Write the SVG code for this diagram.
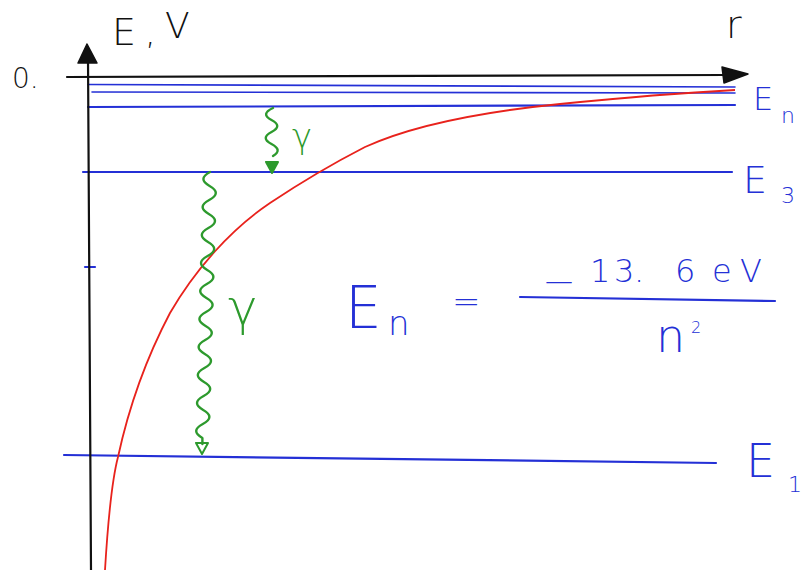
<svg xmlns="http://www.w3.org/2000/svg" width="804" height="570" viewBox="0 0 804 570">
<style>
.axis{stroke:#111;stroke-width:2.2;fill:none;stroke-linecap:round}
.ahead{fill:#111;stroke:#111;stroke-width:1.5;stroke-linejoin:round}
.lvl{stroke:#2430d6;stroke-width:2.2;fill:none;stroke-linecap:round}
.lvlthin{stroke:#2430d6;stroke-width:1.6;fill:none;stroke-linecap:round}
.curve{stroke:#e8221c;stroke-width:1.8;fill:none}
.wave{stroke:#2d9a2d;stroke-width:2.4;fill:none;stroke-linecap:round;stroke-linejoin:round}
.whead{stroke:#2d9a2d;stroke-width:2;stroke-linejoin:round}
.t{font-family:"DejaVu Sans","Liberation Sans",sans-serif;font-weight:200}
.blk{fill:#111}
.blu{fill:#2430d6}
.grn{fill:#2d9a2d}
</style>
<rect width="804" height="570" fill="#fff"/>
<g id="levels">
<line class="lvlthin" x1="88" y1="84.5" x2="735" y2="87"/>
<line class="lvlthin" x1="92" y1="92" x2="735" y2="93"/>
<line class="lvl" x1="88" y1="107" x2="735" y2="105"/>
<line class="lvl" x1="83" y1="172" x2="732" y2="172"/>
<line class="lvl" x1="64" y1="455" x2="716" y2="463"/>
<line class="lvl" x1="85" y1="267" x2="95" y2="267"/>
</g>
<g id="curve">
<path class="curve" d="M105,570 C108,520 112,480 118,457 C126,420 140,370 170,313 C195,270 230,230 270,203 C300,183 330,165 365,147 C420,122 500,110 560,104 C620,98 680,93 735,90"/>
</g>
<g id="axes">
<line class="axis" x1="91" y1="570" x2="88" y2="58"/>
<polygon class="ahead" points="87,44 78,63 97,63"/>
<line class="axis" x1="67" y1="77" x2="726" y2="75"/>
<polygon class="ahead" points="748,74 722,67 724,83"/>
</g>
<g id="photons">
<path class="wave" d="M273,108 q-13,6 -1.5,12 t0,12 t0,12 t1.5,12"/>
<polygon class="whead" fill="#2d9a2d" points="266,162 278,162 272,173"/>
<path class="wave" d="M210,172 q-13,7 -0.4,14 t-0.4,14 t-0.4,14 t-0.4,14 t-0.4,14 t-0.4,14 t-0.4,14 t-0.4,14 t-0.4,14 t-0.4,14 t-0.4,14 t-0.4,14 t-0.4,14 t-0.4,14 t-0.4,14 t-0.4,14 t-0.4,14 t-0.4,14 t-0.4,14 l0,6"/>
<polygon class="whead" fill="none" points="196,443 208,443 202,454"/>
</g>
<g id="labels">
<text class="t blk" x="112" y="45" font-size="38">E</text>
<text class="t blk" x="145" y="44" font-size="34">,</text>
<text class="t blk" x="165" y="38" font-size="36">V</text>
<text class="t blk" x="12" y="88" font-size="28">0.</text>
<text class="t blk" x="726" y="38" font-size="38">r</text>
<text class="t grn" x="292" y="148" font-size="34">γ</text>
<text class="t grn" x="228" y="325" font-size="50">γ</text>
<text class="t blu" x="753" y="110" font-size="32">E</text>
<text class="t blu" x="781" y="123" font-size="22">n</text>
<text class="t blu" x="743" y="193" font-size="38">E</text>
<text class="t blu" x="781" y="203" font-size="22">3</text>
<text class="t blu" x="746" y="477" font-size="46">E</text>
<text class="t blu" x="788" y="492" font-size="22">1</text>
</g>
<g id="formula">
<text class="t blu" x="345" y="328" font-size="58">E</text>
<text class="t blu" x="388" y="335" font-size="34">n</text>
<text class="t blu" x="452" y="313" font-size="34">=</text>
<text class="t blu" y="282" font-size="32"><tspan x="545" y="290" font-size="28">—</tspan><tspan x="590" y="282">1</tspan><tspan x="614">3</tspan><tspan x="634">.</tspan><tspan x="675">6</tspan><tspan x="712">e</tspan><tspan x="740">V</tspan></text>
<line class="lvl" x1="520" y1="297" x2="775" y2="301"/>
<text class="t blu" x="656" y="352" font-size="46">n</text>
<text class="t blu" x="691" y="333" font-size="16">2</text>
</g>
</svg>
